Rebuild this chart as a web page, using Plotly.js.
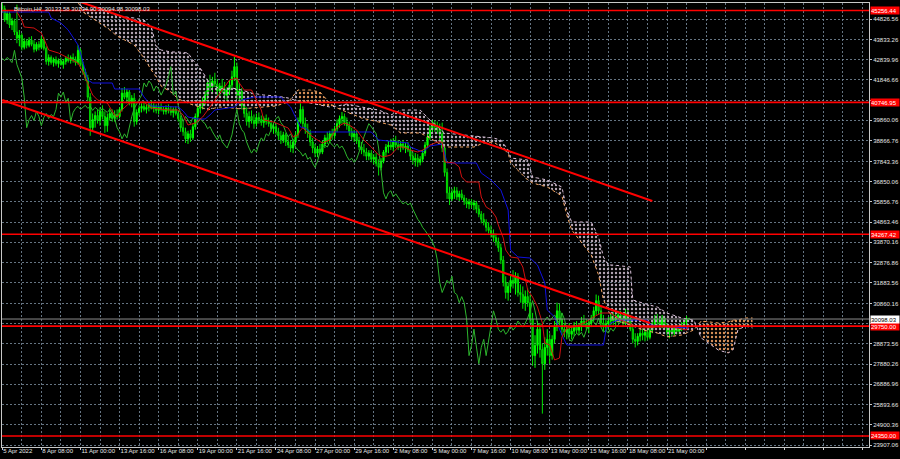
<!DOCTYPE html>
<html><head><meta charset="utf-8">
<script src="https://cdn.plot.ly/plotly-3.0.1.min.js"></script>
<style>html,body{margin:0;padding:0;background:#000;}#chart{width:900px;height:459px;}</style>
</head><body><div id="chart"></div>
<script>
// ---- time grid: H4 bars, bar 0 = 5 Apr 2022 16:00 ----
const firstBar = Date.UTC(2022, 3, 5, 16, 0);
const barHours = 4;

// ---- candles (Bitcoin, H4) ----
const open = [
45500,45350,44800,45100,44550,44750,44200,43900,44050,43450,
43750,43550,43800,43600,43350,43600,43450,43850,43400,42750,
42950,42700,42850,42650,42800,42600,42750,42900,42800,42950,
42850,42700,43300,42600,42250,41950,41000,39500,39900,40100,
39850,40300,40050,39600,40000,40200,39950,40150,40050,40400,
41200,41000,41250,40750,40950,39800,40250,40450,40550,40400,
40500,40600,40450,40550,40350,40500,40400,40300,40450,40350,
40250,40400,40200,39950,39500,39300,38950,39200,39000,39550,
40050,40450,40650,40850,41100,41700,41500,41800,41650,41300,
41550,41400,41100,41350,41600,42000,42500,41100,41300,40600,
40200,39800,40050,39850,39700,40000,39900,39750,39950,39800,
39700,39450,39550,39300,39100,38900,39150,38800,38650,38500,
38800,39150,39800,40400,39700,39400,39250,38800,38500,38250,
38450,38300,38700,39000,38850,39200,39100,39450,39700,39950,
40050,39750,39600,39300,39050,39200,38850,38550,38400,38300,
38100,38250,37950,38050,37750,37550,37850,38300,38550,38650,
38550,38800,38650,38550,38700,38500,38600,38400,38100,37900,
38000,37800,37950,38250,38650,39050,39400,39700,39550,39400,
39200,38500,37300,36300,36000,36300,36400,36100,36250,36050,
35900,35750,35850,35700,35800,35500,35250,35000,34850,34600,
34450,34300,34100,33900,33600,33000,31900,31400,31700,32000,
31850,32200,31400,31300,30900,31200,30900,30100,28300,28800,
29600,28600,27900,28700,29100,28300,29100,29700,30500,30100,
29600,29450,29600,29350,29500,29800,29550,29700,30000,29850,
29700,29900,30150,30500,31000,30500,29900,29700,29850,30000,
30200,30000,30150,30300,30050,29900,30400,30100,29600,29100,
29000,29250,29400,29300,29450,29200,29550,29850,30100,29950,
29800,30150,29700,29450,29550,29400,29650,29500,29700,29800,
29950,30133.58];
const high = [
45640,45500,45250,45200,44900,44850,45550,44300,44150,43900,
43850,43950,44000,43800,43700,43750,44000,43950,43500,43100,
43050,42950,43000,42900,42950,42850,43000,43100,43050,43150,
43000,43550,43400,42750,42400,42100,41200,40200,40300,40400,
40500,40600,40300,40200,40450,40400,40350,40400,40500,41450,
41500,41400,41350,41100,41200,40400,40600,40700,40800,40650,
40750,40850,40700,40650,40600,40700,40550,40600,40650,40550,
40500,40550,40350,40100,39800,39500,39350,39400,39700,40200,
40600,40800,41000,41300,41900,42100,42000,42200,41900,41700,
41900,41750,41500,41850,42300,42980,42700,41700,41450,40900,
40500,40300,40350,40150,40200,40250,40100,40050,40150,40000,
39850,39750,39700,39500,39350,39300,39250,39100,38900,38950,
39300,40000,40700,40550,40000,39700,39400,39000,38700,38600,
38700,38850,39150,39300,39350,39450,39600,39900,40100,40270,
40200,40000,39800,39500,39400,39350,39050,38800,38700,38500,
38400,38400,38200,38250,37950,38000,38400,38700,38850,38950,
39000,39100,38900,38850,38900,38750,38800,38550,38300,38250,
38200,38100,38400,38800,39200,39600,39880,39850,39800,39700,
39750,38700,37500,36600,36500,36600,36580,36400,36450,36200,
36050,36000,36000,35950,35900,35700,35400,35300,35000,34850,
34700,34500,34300,34100,33800,33200,32200,31900,32300,32500,
32400,32350,31800,31700,31500,31600,31300,30400,29300,30000,
29900,28900,29200,29600,29400,29300,30000,30900,30850,30400,
29900,29800,29900,29700,29950,30000,29900,30200,30300,30100,
30050,30300,30700,31300,31250,30700,30300,30050,30200,30400,
30450,30350,30500,30500,30300,30600,30550,30300,29800,29400,
29400,29600,29650,29600,29700,29650,30000,30300,30350,30200,
30300,30250,29900,29700,29800,29750,29850,29800,29950,30100,
30250,30134.00];
const low = [
45150,44700,44600,44400,44300,44050,43650,43500,43300,43350,
43400,43450,43500,43200,43250,43300,43350,43300,42600,42550,
42600,42500,42550,42450,42550,42400,42600,42700,42650,42700,
42550,42600,42500,42100,41800,40800,39100,39300,39500,39700,
39600,39900,39250,39300,39850,39800,39800,39900,39950,40300,
40900,40700,40600,40500,39550,39650,40100,40250,40300,40200,
40300,40400,40250,40200,40150,40300,40150,40150,40200,40100,
40000,40100,39800,39300,39100,38750,38700,38800,38900,39400,
39900,40200,40400,40600,40900,41300,41200,41500,41100,41000,
41200,40900,40800,41100,41400,41800,40900,40700,40400,40000,
39600,39500,39700,39450,39550,39700,39600,39500,39650,39550,
39300,39200,39150,38900,38700,38750,38600,38500,38300,38250,
38700,39000,39700,39500,39200,39000,38600,38250,38050,38050,
38200,38200,38500,38700,38750,38900,38950,39300,39500,39700,
39600,39400,39100,38900,38800,38700,38400,38200,38100,37900,
37900,37800,37700,37600,37150,37400,37750,38100,38250,38400,
38350,38500,38400,38300,38400,38250,38300,37900,37700,37600,
37570,37650,37800,38100,38500,38900,39200,39300,39200,38900,
38300,37100,36000,35700,35900,36000,35950,35900,35950,35700,
35550,35500,35550,35450,35300,35100,34800,34700,34400,34300,
34100,33900,33700,33400,32800,31700,31100,31000,31400,31600,
31300,31200,30900,30600,30500,30700,29900,27800,27700,28400,
28200,25450,27600,28300,27900,28100,28900,29500,29800,29300,
29200,29100,29200,29100,29250,29400,29300,29500,29700,29550,
29400,29700,30000,30300,30300,29700,29500,29450,29550,29800,
29800,29700,29900,29900,29700,29800,29900,29500,28900,28700,
28800,29000,29050,29000,29050,29100,29400,29700,29800,29600,
29650,29600,29300,29150,29250,29300,29350,29350,29500,29600,
29800,30094.98];
const close = [
45350,44800,45100,44550,44750,44200,43900,44050,43450,43750,
43550,43800,43600,43350,43600,43450,43850,43400,42750,42950,
42700,42850,42650,42800,42600,42750,42900,42800,42950,42850,
42700,43300,42600,42250,41950,41000,39500,39900,40100,39850,
40300,40050,39600,40000,40200,39950,40150,40050,40400,41200,
41000,41250,40750,40950,39800,40250,40450,40550,40400,40500,
40600,40450,40550,40350,40500,40400,40300,40450,40350,40250,
40400,40200,39950,39500,39300,38950,39200,39000,39550,40050,
40450,40650,40850,41100,41700,41500,41800,41650,41300,41550,
41400,41100,41350,41600,42000,42500,41100,41300,40600,40200,
39800,40050,39850,39700,40000,39900,39750,39950,39800,39700,
39450,39550,39300,39100,38900,39150,38800,38650,38500,38800,
39150,39800,40400,39700,39400,39250,38800,38500,38250,38450,
38300,38700,39000,38850,39200,39100,39450,39700,39950,40050,
39750,39600,39300,39050,39200,38850,38550,38400,38300,38100,
38250,37950,38050,37750,37550,37850,38300,38550,38650,38550,
38800,38650,38550,38700,38500,38600,38400,38100,37900,38000,
37800,37950,38250,38650,39050,39400,39700,39550,39400,39200,
38500,37300,36300,36000,36300,36400,36100,36250,36050,35900,
35750,35850,35700,35800,35500,35250,35000,34850,34600,34450,
34300,34100,33900,33600,33000,31900,31400,31700,32000,31850,
32200,31400,31300,30900,31200,30900,30100,28300,28800,29600,
28600,27900,28700,29100,28300,29100,29700,30500,30100,29600,
29450,29600,29350,29500,29800,29550,29700,30000,29850,29700,
29900,30150,30500,31000,30500,29900,29700,29850,30000,30200,
30000,30150,30300,30050,29900,30400,30100,29600,29100,29000,
29250,29400,29300,29450,29200,29550,29850,30100,29950,29800,
30150,29700,29450,29550,29400,29650,29500,29700,29800,29950,
30133.58,30098.03];

// ---- Ichimoku lines (bar index, price) ----
const tenkanBar = [6,8,9,13,16,19,23,27,31,33,35,37,39,43,46,47,49,52,58,61,68,72,74,76,79,82,85,88,91,93,96,97,99,102,104,106,107,111,114,117,118,119,121,122,123,126,129,131,134,137,140,142,145,148,151,154,156,159,162,164,167,170,172,175,178,180,181,185,187,188,190,195,196,198,200,202,203,205,206,208,211,213,215,217,219,221,222,224,226,228,229,231,234,238,242,245,249,253,258,262,268,272,276,280,281];
const tenkanVal = [45185,44792,44448,44399,44153,43318,43170,42925,42679,42237,41696,41107,40861,40714,40124,40026,40370,40714,40763,40468,40370,40370,40124,39632,39731,40026,40517,41009,41500,41844,41942,41696,41352,41352,40861,40370,39878,39780,39632,39485,39289,39043,39141,39387,39485,39141,38895,38748,38895,39534,39731,39632,39387,38895,38551,38158,38060,38158,38551,38551,38404,38306,38404,38650,38797,38797,37814,37765,37569,37077,36831,36831,36094,35603,35456,35112,34719,34080,33490,33146,33097,32655,31524,31180,30689,29902,28920,28822,28085,28183,29215,29657,29706,29903,30197,30394,30394,30050,29805,29657,29706,29706,29657,29559,29805];
const kijunBar = [0,19,20,24,27,29,31,32,34,35,37,45,46,56,58,60,61,72,74,76,80,83,85,87,95,98,103,114,115,118,122,124,126,151,154,166,167,172,175,180,182,194,196,200,204,207,208,211,216,219,222,223,226,229,231,246,247,249,252,264,265,272,281];
const kijunVal = [45185,45185,44890,44645,44301,43908,43564,43171,42335,41844,41696,41696,41402,41402,41009,40714,40566,40517,40320,40026,39927,39927,40124,40370,40517,40861,41009,41009,40861,40517,39534,39485,39289,39289,38895,38748,38551,38306,38601,38699,37765,37765,37274,36930,36438,35456,33490,33146,33097,32753,31868,30541,30197,29313,28822,28822,29559,29903,30050,30050,29805,29706,29657];
const cloudBar = [31,33,43,47,54,58,61,63,65,69,72,76,78,81,84,87,89,94,98,102,107,112,117,121,126,130,134,137,141,147,154,159,163,171,175,181,188,193,197,201,204,207,208,215,217,223,229,231,233,241,244,246,248,250,257,258,262,268,272,278,283,286,293,297,299,301,304,307];
const spanB = [45775,45333,45234,44989,44890,44792,44448,43515,43318,43220,43220,43171,42827,42433,41844,41549,41402,41451,41352,41205,41107,41058,40959,40812,40714,40615,40517,40566,40664,40517,40370,40124,40370,40370,39878,39239,39141,39092,39043,38994,38895,38404,38011,37912,37077,36930,36586,35455,34866,34866,34129,33146,32753,32753,32655,31033,30886,30689,30394,30149,30050,29165,28576,28428,28576,29559,29755,29657];
const spanA = [45677,45185,44399,44006,43564,42925,42335,41991,41549,41254,40910,40714,40615,40517,40370,40468,40517,40468,40419,40468,40517,40566,40763,41352,41352,41254,40714,40468,40271,39976,39780,39632,39239,39239,38994,38551,38551,38551,38748,38797,38551,38257,37765,36930,36782,36586,36144,35210,34473,33244,32262,31033,30542,30050,29805,29755,29559,29411,29215,29313,29559,30001,29903,29952,30050,30050,30149,30149];
const chikouShift = 26;

// ---- drawn objects ----
const trendUpperBar = [32, 266], trendUpperVal = [45677, 35898];
const trendLowerBar = [0, 265],  trendLowerVal = [40861, 29903];
const levels = [45256.44, 40746.95, 34267.42, 29750.00, 24350.00];
const lastPrice = 30098.03;
const header = "Bitcoin,H4  30133.58 30134.00 30094.98 30098.03";

// ---- axis ticks ----
const xTickLabels = ["5 Apr 2022","8 Apr 08:00","11 Apr 00:00","13 Apr 16:00","16 Apr 08:00","19 Apr 00:00","21 Apr 16:00","24 Apr 08:00","27 Apr 00:00","29 Apr 16:00","2 May 08:00","5 May 00:00","7 May 16:00","10 May 08:00","13 May 00:00","15 May 16:00","18 May 08:00","21 May 00:00"];
const yTickVals = [44826.56,43833.26,42839.96,41846.66,40853.36,39860.06,38866.76,37843.36,36850.06,35856.76,34863.46,33870.16,32876.86,31883.56,30860.16,29866.86,28873.56,27880.26,26886.96,25893.66,24900.36,23907.06];
const yTickHidden = [40853.36, 29866.86];   // covered by price labels in the reference

// ---------------------------------------------------------------
function t(i){ return new Date(firstBar + i*barHours*3600000).toISOString().slice(0,19).replace('T',' '); }
const bars = close.map((_, i) => t(i));
const FONT = "Liberation Sans, Arial, sans-serif";
const GRID = "rgba(119,136,153,0.85)";

const traces = [];
// cloud: split into runs by which span is on top
const up = cloudBar.map((_, k) => spanA[k] > spanB[k]);
let s = 0;
for (let k = 1; k <= cloudBar.length; k++) {
  if (k === cloudBar.length || up[k] !== up[s]) {
    const e = Math.min(k, cloudBar.length - 1);
    const idx = []; for (let j = s; j <= e; j++) idx.push(j);
    const xs = idx.map(j => t(cloudBar[j])).concat(idx.slice().reverse().map(j => t(cloudBar[j])));
    const ys = idx.map(j => spanA[j]).concat(idx.slice().reverse().map(j => spanB[j]));
    traces.push({type:'scatter', mode:'lines', x:xs, y:ys, fill:'toself', line:{width:0, color:'rgba(0,0,0,0)'},
      fillcolor:'rgba(0,0,0,0)',
      fillpattern:{shape:'.', size:4, solidity:0.28, fgcolor: up[s] ? '#d89058' : '#b4a6b4', bgcolor:'rgba(0,0,0,0)'},
      hoverinfo:'skip'});
    s = k;
  }
}
traces.push({type:'scatter', mode:'lines', x:cloudBar.map(t), y:spanA, line:{color:'#f4a460', width:1, dash:'dot'}, hoverinfo:'skip'});
traces.push({type:'scatter', mode:'lines', x:cloudBar.map(t), y:spanB, line:{color:'#d8bfd8', width:1, dash:'dot'}, hoverinfo:'skip'});
// chikou span = close plotted 26 bars back
traces.push({type:'scatter', mode:'lines', x:bars.slice(0, bars.length - chikouShift), y:close.slice(chikouShift),
  line:{color:'#2db52d', width:1}, hoverinfo:'skip'});
traces.push({type:'scatter', mode:'lines', x:kijunBar.map(t), y:kijunVal, line:{color:'#1010e0', width:1}, hoverinfo:'skip'});
traces.push({type:'scatter', mode:'lines', x:tenkanBar.map(t), y:tenkanVal, line:{color:'#d01010', width:1}, hoverinfo:'skip'});
traces.push({type:'candlestick', x:bars, open:open, high:high, low:low, close:close,
  increasing:{line:{color:'#00ff00', width:1}, fillcolor:'#00ff00'},
  decreasing:{line:{color:'#00e000', width:1}, fillcolor:'#008a00'},
  whiskerwidth:0, hoverinfo:'skip'});
traces.push({type:'scatter', mode:'lines', x:trendUpperBar.map(t), y:trendUpperVal, line:{color:'#ff0000', width:2}, hoverinfo:'skip'});
traces.push({type:'scatter', mode:'lines', x:trendLowerBar.map(t), y:trendLowerVal, line:{color:'#ff0000', width:2}, hoverinfo:'skip'});

const majorIdx = [], minorIdx = [];
for (let i = 0; i <= 352; i += 16) majorIdx.push(i);
for (let i = 8; i <= 352; i += 16) minorIdx.push(i);

const shapes = levels.map(v => ({type:'line', xref:'paper', x0:0, x1:1, yref:'y', y0:v, y1:v, line:{color:'#ff0000', width:1.6}}));
shapes.push({type:'line', xref:'paper', x0:0, x1:1, yref:'y', y0:lastPrice, y1:lastPrice, line:{color:'#8c8c8c', width:1}});

const annotations = levels.map(v => ({xref:'paper', x:1, xanchor:'left', yref:'y', y:v, text:v.toFixed(2), showarrow:false,
  bgcolor:'#ff0000', font:{color:'#ffffff', size:6, family:FONT}, borderpad:0, height:7, width:28, align:'left', xshift:1}));
annotations.push({xref:'paper', x:1, xanchor:'left', yref:'y', y:lastPrice, text:lastPrice.toFixed(2), showarrow:false,
  bgcolor:'#ffffff', font:{color:'#000000', size:6, family:FONT}, borderpad:0, height:7, width:28, align:'left', xshift:1});
annotations.push({xref:'paper', x:0, xanchor:'left', yref:'paper', y:1, yanchor:'top', text:header, showarrow:false,
  font:{color:'#e6e6e6', size:6, family:FONT}, xshift:10, yshift:-1});

const layout = {
  width:900, height:459, paper_bgcolor:'#000000', plot_bgcolor:'#000000',
  margin:{l:2, r:31, t:3, b:12}, showlegend:false, dragmode:false,
  font:{family:FONT, color:'#e6e6e6', size:6},
  xaxis:{type:'date', range:[t(-0.1), t(354.65)], rangeslider:{visible:false},
    tickmode:'array', tickvals:majorIdx.map(t), ticktext:majorIdx.map((i,k) => k < xTickLabels.length ? xTickLabels[k] : ''),
    tickangle:0, ticks:'outside', ticklen:2, tickcolor:'#c8c8c8', ticklabelposition:'outside right', ticklabelstandoff:-2,
    tickfont:{size:6, color:'#e6e6e6', family:FONT},
    showgrid:true, gridcolor:GRID, griddash:'2px,2px', gridwidth:1,
    minor:{tickmode:'array', tickvals:minorIdx.map(t), showgrid:true, gridcolor:GRID, griddash:'2px,2px', ticks:''},
    showline:true, linecolor:'#c8c8c8', linewidth:1, mirror:true, zeroline:false, fixedrange:true},
  yaxis:{side:'right', range:[23809, 45628], tickmode:'array', tickvals:yTickVals,
    ticktext:yTickVals.map(v => yTickHidden.includes(v) ? '' : v.toFixed(2)),
    ticks:'outside', ticklen:2, tickcolor:'#c8c8c8', tickfont:{size:6, color:'#e6e6e6', family:FONT},
    showgrid:true, gridcolor:GRID, griddash:'2px,2px', gridwidth:1,
    showline:true, linecolor:'#c8c8c8', linewidth:1, mirror:true, zeroline:false, fixedrange:true},
  shapes:shapes, annotations:annotations
};
Plotly.newPlot('chart', traces, layout, {displayModeBar:false, staticPlot:true});
</script></body></html>
